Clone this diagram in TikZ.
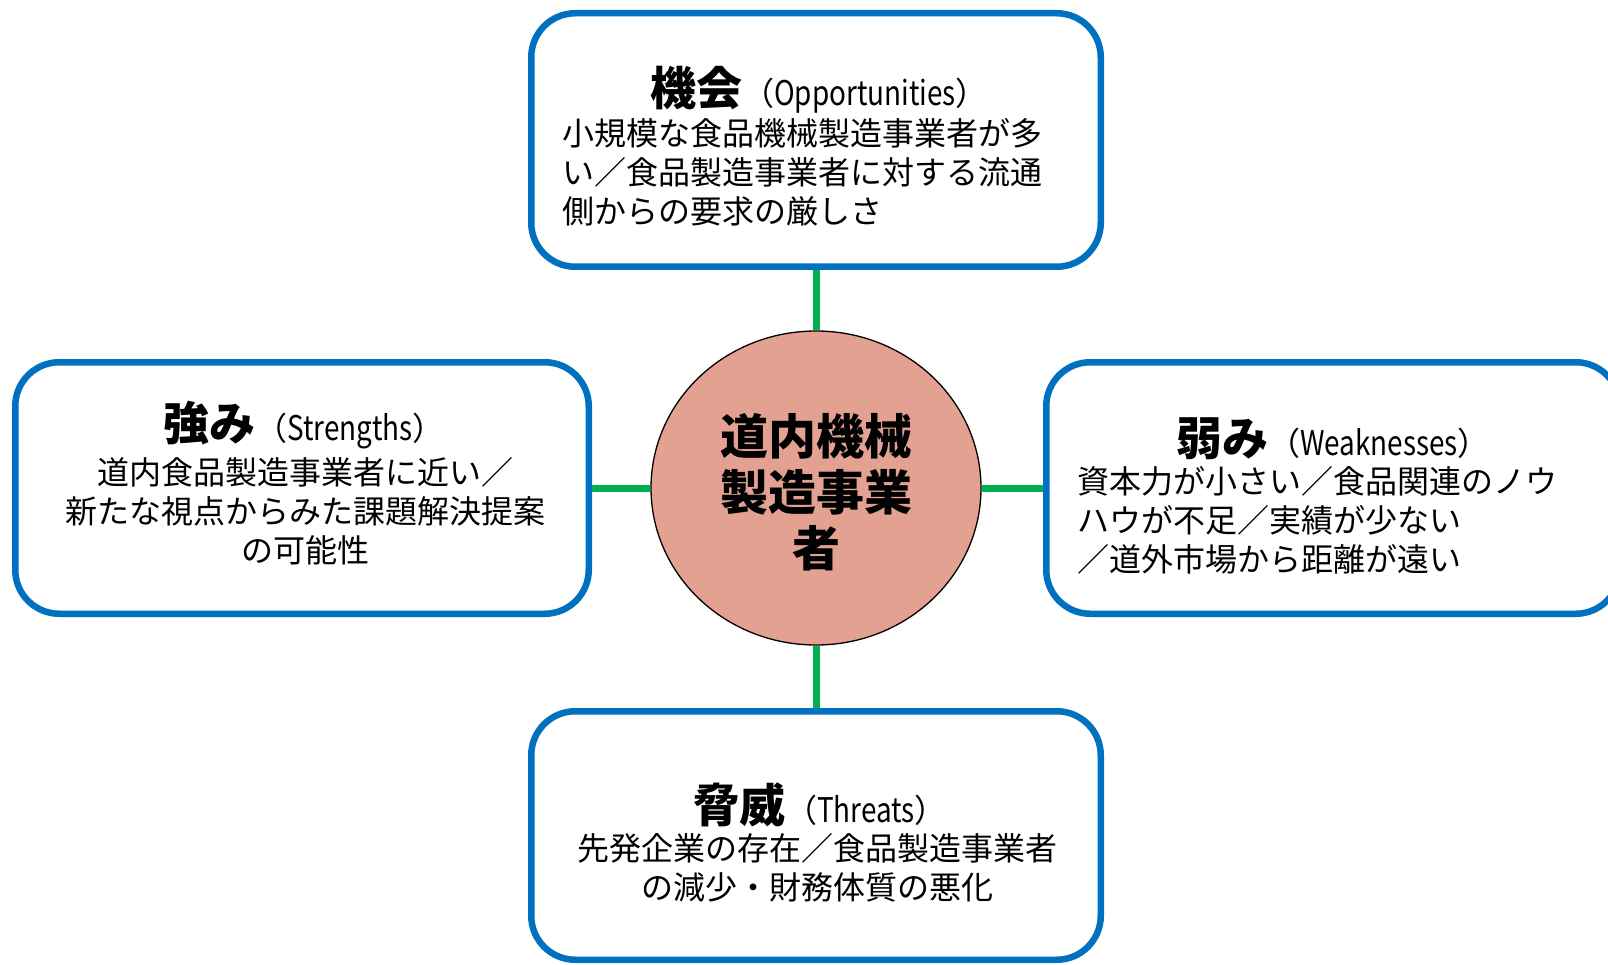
\documentclass[tikz,border=0pt]{standalone}
\usepackage{fontspec}
\usepackage{graphicx}
\setmainfont{Noto Sans CJK JP}
\usetikzlibrary{shapes.geometric}
\definecolor{boxblue}{HTML}{0070C0}
\definecolor{linkgreen}{HTML}{00B050}
\definecolor{circfill}{HTML}{E3A192}
\newcommand{\latpart}[1]{\scalebox{0.82}[1]{\fontsize{34}{34}\selectfont #1}}
\newcommand{\ttlpart}[2]{{\fontsize{46}{46}\selectfont\bfseries #1}{\fontsize{32}{32}\selectfont （}\latpart{#2}{\fontsize{32}{32}\selectfont ）}}
\begin{document}
\begin{tikzpicture}[x=1pt,y=-1pt,
  box/.style={draw=boxblue, line width=6.5pt, rounded corners=44pt, fill=white, inner sep=0pt},
  link/.style={draw=linkgreen, line width=7pt},
  bodytext/.style={font=\fontsize{32}{39}\selectfont, inner sep=0pt},
  titletext/.style={inner sep=0pt},
  coretext/.style={font=\fontsize{48}{56}\selectfont\bfseries, inner sep=0pt, align=center}]
\useasboundingbox (0,0) rectangle (1608,965);
\clip (0,0) rectangle (1608,965);
\fill[white] (0,0) rectangle (1608,965);

\node[box, minimum width=569.5pt, minimum height=253.5pt] (opp) at (816,140) {};
\node[box, minimum width=573.5pt, minimum height=251.5pt] (str) at (302,488) {};
\node[box, minimum width=573.5pt, minimum height=251.5pt] (wea) at (1333,488) {};
\node[box, minimum width=569.5pt, minimum height=248.5pt] (thr) at (816,835.5) {};
\node[ellipse, draw=black, line width=1.3pt, fill=circfill, minimum width=330pt, minimum height=314pt, inner sep=0pt] (core) at (816,488) {};

\draw[link] (opp.south) -- (core.north);
\draw[link] (thr.north) -- (core.south);
\draw[link] (str.east) -- (core.west);
\draw[link] (wea.west) -- (core.east);

\node[coretext] (coret) at (816,492) {道内機械\\製造事業\\者};

\node[titletext] (oppt) at (819,90) {\ttlpart{機会}{Opportunities}};
\node[bodytext, align=left, anchor=west] (oppb) at (562,172) {小規模な食品機械製造事業者が多\\い／食品製造事業者に対する流通\\側からの要求の厳しさ};

\node[titletext] (strt) at (304,425) {\ttlpart{強み}{Strengths}};
\node[bodytext, align=center] (strb) at (305,511) {道内食品製造事業者に近い／\\新たな視点からみた課題解決提案\\の可能性};

\node[titletext] (weat) at (1333,439) {\ttlpart{弱み}{Weaknesses}};
\node[bodytext, align=left, anchor=west] (weab) at (1077,520) {資本力が小さい／食品関連のノウ\\ハウが不足／実績が少ない\\／道外市場から距離が遠い};

\node[titletext] (thrt) at (820,805) {\ttlpart{脅威}{Threats}};
\node[bodytext, align=center] (thrb) at (817,868) {先発企業の存在／食品製造事業者\\の減少・財務体質の悪化};
\end{tikzpicture}
\end{document}
